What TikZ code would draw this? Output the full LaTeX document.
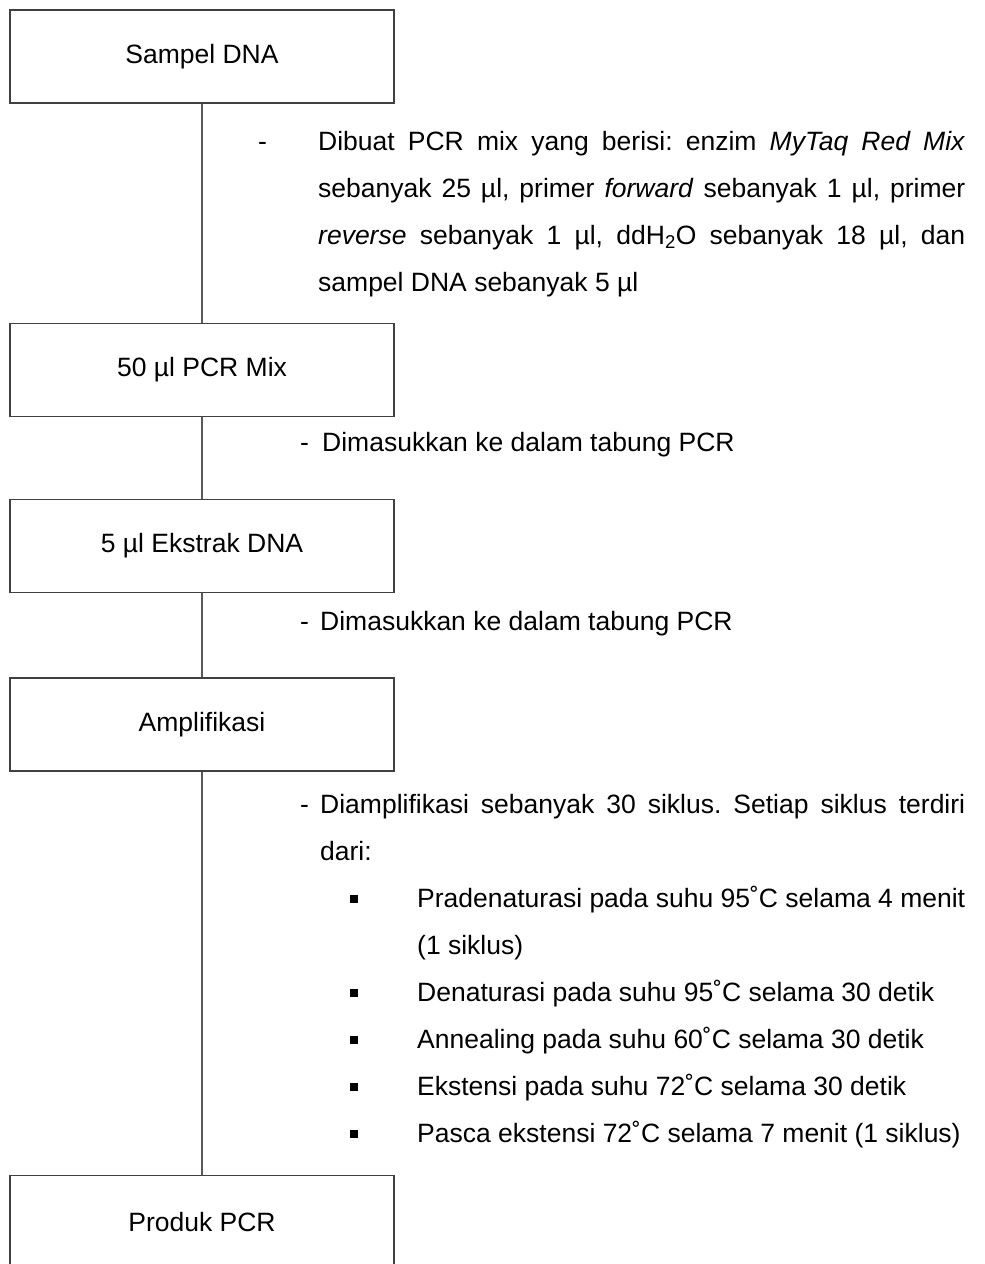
\documentclass[tikz,border=0pt]{standalone}
\usepackage{fontspec}
\setmainfont{Liberation Sans}
\frenchspacing
\begin{document}
\begin{tikzpicture}[x=1pt,y=-1pt,
  stepbox/.style={draw=black!75, line width=1.2pt, minimum width=384pt,
    minimum height=93pt, inner sep=0pt, font=\fontsize{26.5}{47}\selectfont},
  link/.style={draw=black!65, line width=1.3pt},
  txt/.style={anchor=base west, inner sep=0pt, font=\fontsize{26.5}{47}\selectfont},
  mark box/.style={anchor=base west, inner sep=0pt}]
\fill[white] (0,0) rectangle (985,1264);
\clip (0,0) rectangle (985,1264);

% process steps
\node[stepbox] (s1) at (202,56.5) {Sampel DNA};
\node[stepbox] (s2) at (202,370) {50 µl PCR Mix};
\node[stepbox] (s3) at (202,546) {5 µl Ekstrak DNA};
\node[stepbox] (s4) at (202,724.5) {Amplifikasi};
\node[stepbox] (s5) at (202,1222) {Produk PCR};

% vertical connectors
\draw[link] (s1.south) -- (s2.north);
\draw[link] (s2.south) -- (s3.north);
\draw[link] (s3.south) -- (s4.north);
\draw[link] (s4.south) -- (s5.north);

% step 1 notes
\node[txt] (d1) at (258,150) {-};
\node[txt] (a1) at (318,150) {\makebox[647pt][s]{Dibuat PCR mix yang berisi: enzim \textit{MyTaq Red Mix}}};
\node[txt] (a2) at (318,197) {\makebox[647pt][s]{sebanyak 25 µl, primer \textit{forward} sebanyak 1 µl, primer}};
\node[txt] (a3) at (318,244) {\makebox[647pt][s]{\textit{reverse} sebanyak 1 µl, ddH\textsubscript{2}O sebanyak 18 µl, dan}};
\node[txt] (a4) at (318,291) {sampel DNA sebanyak 5 µl};

% step 2 notes
\node[txt] (d2) at (300,451) {-};
\node[txt] (b1) at (322,451) {Dimasukkan ke dalam tabung PCR};

% step 3 notes
\node[txt] (d3) at (300,630) {-};
\node[txt] (c1) at (320,630) {Dimasukkan ke dalam tabung PCR};

% step 4 notes
\node[txt] (d4) at (300,813) {-};
\node[txt] (e1) at (320,813) {\makebox[645pt][s]{Diamplifikasi sebanyak 30 siklus. Setiap siklus terdiri}};
\node[txt] (e2) at (320,860) {dari:};

\node[mark box] (m1) at (350,907) {\rule[4pt]{8pt}{8pt}};
\node[txt] (f1) at (417,907) {\makebox[548pt][s]{Pradenaturasi pada suhu 95˚C selama 4 menit}};
\node[txt] (f2) at (417,954) {(1 siklus)};
\node[mark box] (m2) at (350,1001) {\rule[4pt]{8pt}{8pt}};
\node[txt] (f3) at (417,1001) {Denaturasi pada suhu 95˚C selama 30 detik};
\node[mark box] (m3) at (350,1048) {\rule[4pt]{8pt}{8pt}};
\node[txt] (f4) at (417,1048) {Annealing pada suhu 60˚C selama 30 detik};
\node[mark box] (m4) at (350,1095) {\rule[4pt]{8pt}{8pt}};
\node[txt] (f5) at (417,1095) {Ekstensi pada suhu 72˚C selama 30 detik};
\node[mark box] (m5) at (350,1142) {\rule[4pt]{8pt}{8pt}};
\node[txt] (f6) at (417,1142) {Pasca ekstensi 72˚C selama 7 menit (1 siklus)};
\end{tikzpicture}
\end{document}
